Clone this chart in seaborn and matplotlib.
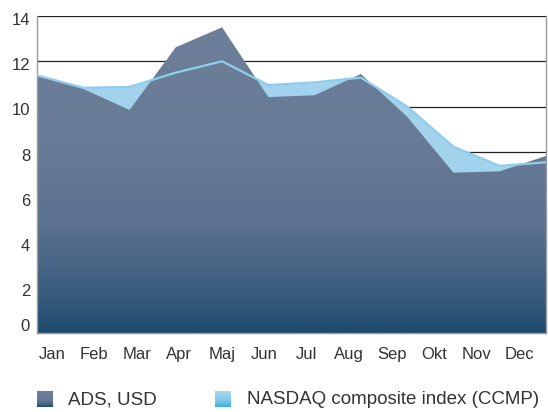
import numpy as np
import matplotlib
matplotlib.use("Agg")
import matplotlib.pyplot as plt
import matplotlib.transforms as mtransforms
from matplotlib.colors import LinearSegmentedColormap
import seaborn as sns

# -----------------------------
# DATA
# -----------------------------
months = ["Jan", "Feb", "Mar", "Apr", "Maj", "Jun", "Jul", "Aug", "Sep", "Okt", "Nov", "Dec"]
ads_usd = [11.35, 10.78, 9.85, 12.62, 13.5, 10.42, 10.5, 11.44, 9.55, 7.08, 7.14, 7.82]
nasdaq = [11.38, 10.83, 10.87, 11.5, 12.0, 10.95, 11.07, 11.28, 10.0, 8.23, 7.38, 7.54]
y_ticks = [0, 2, 4, 6, 8, 10, 12, 14]
legend_labels = ["ADS, USD", "NASDAQ composite index (CCMP)"]

# -----------------------------
# STYLE
# -----------------------------
sns.set_style("white")
plt.rcParams["font.family"] = ["Liberation Sans", "DejaVu Sans"]
text_color = "#333333"

dark_cmap = LinearSegmentedColormap.from_list(
    "ads", [(0.0, "#1c4a6c"), (0.12, "#3a5c7e"), (0.35, "#5c7290"), (0.6, "#687b96"), (1.0, "#6d7f99")])
light_cmap = LinearSegmentedColormap.from_list(
    "nasdaq", [(0.0, "#3aaee0"), (0.5, "#8ccbea"), (1.0, "#a9d6ec")])

fig = plt.figure(figsize=(5.48, 4.12), dpi=100)
ax = fig.add_axes([37 / 548, 1 - 333 / 412, 509 / 548, 317 / 412])

x = np.arange(len(months))

# gridlines behind everything
for v in y_ticks[1:]:
    ax.axhline(v, color="#222222", lw=0.9, zorder=0)

# light area (NASDAQ)
ax.fill_between(x, 0, nasdaq, color="#a3d3ec", lw=0, zorder=1)

# dark area (ADS) with vertical gradient
poly = ax.fill_between(x, 0, ads_usd, color="none", lw=0, zorder=2)
grad = np.linspace(0, 1, 256).reshape(-1, 1)
img = ax.imshow(grad, cmap=dark_cmap, aspect="auto", origin="lower",
                extent=[0, 11, 0, 14], zorder=2)
img.set_clip_path(poly.get_paths()[0], transform=ax.transData)

# NASDAQ line on top
sns.lineplot(x=x, y=nasdaq, ax=ax, color="#8fcdea", lw=1.6, zorder=3)

ax.set_xlim(0, 11)
ax.set_ylim(0, 14)
ax.set_yticks(y_ticks)
ax.set_yticklabels([str(v) for v in y_ticks], fontsize=12, color=text_color)
ax.tick_params(axis="y", length=0, pad=5)
ax.set_xticks(np.linspace(0.32, 10.42, len(months)))
ax.set_xticklabels(months, fontsize=12, color=text_color)
ax.tick_params(axis="x", length=0, pad=10)

# the "0" label sits a bit above the baseline, the others slightly below their lines
for lab in ax.get_yticklabels():
    dy = 6 / 72 if lab.get_text() == "0" else -2 / 72
    lab.set_transform(lab.get_transform() +
                      mtransforms.ScaledTranslation(0, dy, fig.dpi_scale_trans))

for side in ["left", "right", "bottom"]:
    ax.spines[side].set_color("#999999")
    ax.spines[side].set_linewidth(1.0)
ax.spines["top"].set_visible(False)

# -----------------------------
# LEGEND
# -----------------------------
sq_w, sq_h = 16 / 548, 16 / 412
for cmap, lx, tx, label in [(dark_cmap, 37, 68, legend_labels[0]),
                            (light_cmap, 215, 247, legend_labels[1])]:
    lax = fig.add_axes([lx / 548, 1 - 407 / 412, sq_w, sq_h])
    lax.imshow(grad, cmap=cmap, aspect="auto", origin="lower")
    lax.axis("off")
    fig.text(tx / 548, 1 - 400 / 412, label, fontsize=13.5, color=text_color, va="center")

fig.savefig("out.png", dpi=100)
